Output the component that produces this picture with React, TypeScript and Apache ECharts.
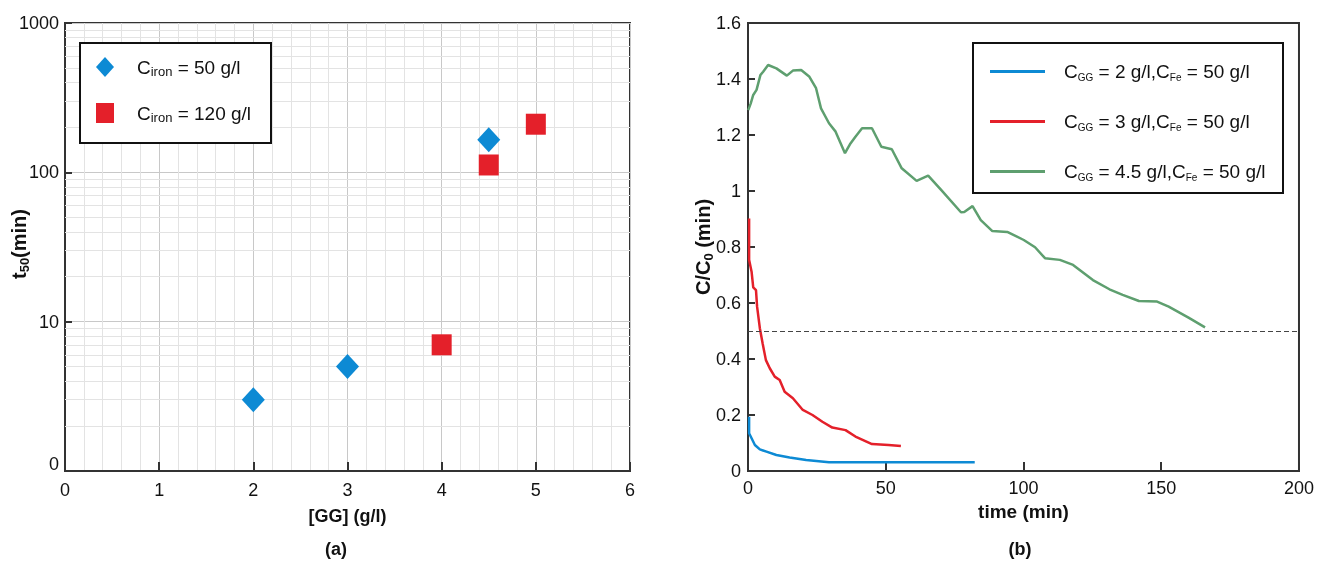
import React, { useEffect, useRef } from 'react';
import * as echarts from 'echarts';

// (a) t50 vs guar gum concentration, log scale
const ggIron50 = [2, 3, 4.5];
const t50Iron50 = [3, 5, 165];
const ggIron120 = [4, 4.5, 5];
const t50Iron120 = [7, 112, 210];
const logMajorLabels = [1, 10, 100, 1000];
const logMinorLines = [2, 3, 4, 5, 6, 7, 8, 9, 20, 30, 40, 50, 60, 70, 80, 90, 200, 300, 400, 500, 600, 700, 800, 900];

// (b) C/C0 vs time
const blueTime = [0.4, 0.4, 1.3, 2.5, 4.3, 6.7, 10.3, 15.1, 21.1, 29.4, 45, 60, 82.3];
const blueRatio = [0.194, 0.135, 0.117, 0.093, 0.077, 0.069, 0.057, 0.048, 0.039, 0.031, 0.031, 0.031, 0.031];
const redTime = [0.4, 0.4, 1.3, 1.9, 2.9, 3.3, 4.3, 5.3, 6.5, 7.9, 9.7, 11.5, 13.3, 16.3, 19.9, 23.4, 27, 30.6, 35.4, 39, 45, 51, 55.5];
const redRatio = [0.902, 0.754, 0.712, 0.656, 0.646, 0.587, 0.51, 0.456, 0.396, 0.367, 0.337, 0.325, 0.283, 0.26, 0.218, 0.2, 0.176, 0.155, 0.146, 0.123, 0.096, 0.093, 0.089];
const greenTime = [0.1, 1, 1.9, 3.1, 4.5, 5.5, 7.3, 10.3, 14.1, 16.3, 19.3, 22.3, 24.7, 26.5, 29.4, 31.8, 35.2, 37.2, 39, 41.4, 45, 48.4, 52.2, 55.8, 61.2, 65.4, 70.1, 77.3, 78.5, 81.5, 84.5, 88.7, 94.1, 100.1, 104.2, 107.8, 113.2, 118, 125.2, 131.2, 136, 141.9, 148.5, 152.7, 159.9, 165.9];
const greenRatio = [1.289, 1.313, 1.343, 1.361, 1.414, 1.426, 1.45, 1.438, 1.412, 1.43, 1.432, 1.408, 1.367, 1.295, 1.242, 1.212, 1.135, 1.17, 1.194, 1.224, 1.224, 1.158, 1.149, 1.081, 1.036, 1.055, 1.004, 0.924, 0.925, 0.946, 0.896, 0.857, 0.854, 0.825, 0.799, 0.76, 0.754, 0.736, 0.682, 0.649, 0.629, 0.607, 0.605, 0.587, 0.548, 0.513];
const halfLevel = 0.5;

const legendA = ['Ciron = 50 g/l', 'Ciron = 120 g/l'];
const legendB = ['CGG = 2 g/l,CFe = 50 g/l', 'CGG = 3 g/l,CFe = 50 g/l', 'CGG = 4.5 g/l,CFe = 50 g/l'];
const legendRichText: Record<string, string> = {
  'Ciron = 50 g/l': '{c|C}{s|iron}{c| = 50 g/l}',
  'Ciron = 120 g/l': '{c|C}{s|iron}{c| = 120 g/l}',
  'CGG = 2 g/l,CFe = 50 g/l': '{c|C}{s|GG}{c| = 2 g/l,C}{s|Fe}{c| = 50 g/l}',
  'CGG = 3 g/l,CFe = 50 g/l': '{c|C}{s|GG}{c| = 3 g/l,C}{s|Fe}{c| = 50 g/l}',
  'CGG = 4.5 g/l,CFe = 50 g/l': '{c|C}{s|GG}{c| = 4.5 g/l,C}{s|Fe}{c| = 50 g/l}',
};

const zip = (xs: number[], ys: number[]) => xs.map((x, i) => [x, ys[i]]);

const FONT = "'Liberation Sans', Arial, Helvetica, sans-serif";
const DARK = '#333';
const BLUE = '#0d8ad4';
const RED = '#e4202a';
const GREEN = '#5e9f6f';

const App: React.FC = () => {
  const chartRef = useRef<HTMLDivElement>(null);

  useEffect(() => {
    if (!chartRef.current) return;
    const chart = echarts.init(chartRef.current, null, { renderer: 'svg' });

    const axisLine = { show: true, lineStyle: { color: DARK, width: 2 } };
    const tick = (len: number) => ({ show: true, inside: true, length: len, lineStyle: { color: DARK, width: 2 } });
    const label = (margin: number) => ({ fontSize: 18, color: '#111', margin, fontFamily: FONT });
    const boldTitle = { fontSize: 18, fontWeight: 'bold', color: '#111', fontFamily: FONT };
    const titleRich = {
      b: { fontSize: 20, fontWeight: 'bold', lineHeight: 24, fill: '#111', fontFamily: FONT },
      s: { fontSize: 13, fontWeight: 'bold', lineHeight: 12, verticalAlign: 'bottom', fill: '#111', fontFamily: FONT },
    };

    const option = {
      animation: false,
      textStyle: { fontFamily: FONT },
      grid: [
        { left: 65, top: 23, width: 565, height: 448, show: true, borderColor: DARK, borderWidth: 2 },
        { left: 748, top: 23, width: 557, height: 448, show: true, borderColor: DARK, borderWidth: 2 },
      ],
      xAxis: [
        {
          gridIndex: 0, type: 'value', min: 0, max: 6, interval: 1,
          name: '[GG] (g/l)', nameLocation: 'middle', nameGap: 36, nameTextStyle: boldTitle,
          axisLine, axisTick: tick(9), axisLabel: label(10),
          splitLine: { show: true, lineStyle: { color: '#c8c8c8', width: 1 } },
          minorTick: { show: false, splitNumber: 5 },
          minorSplitLine: { show: true, lineStyle: { color: '#e3e3e3', width: 1 } },
        },
        {
          gridIndex: 1, type: 'value', min: 0, max: 200, interval: 50,
          name: 'time (min)', nameLocation: 'middle', nameGap: 29, nameTextStyle: { ...boldTitle, fontSize: 19 },
          axisLine, axisTick: tick(9), axisLabel: label(8),
          splitLine: { show: false },
        },
      ],
      yAxis: [
        {
          gridIndex: 0, type: 'log', logBase: 10, min: logMajorLabels[0], max: logMajorLabels[3],
          axisLine, axisTick: tick(7),
          axisLabel: {
            ...label(6),
            formatter: (v: number) => (v === 1 ? '{z|0}' : String(v)),
            rich: { z: { fontSize: 18, color: '#111', fontFamily: FONT, padding: [0, 0, 14, 0] } },
          },
          splitLine: { show: true, lineStyle: { color: '#c8c8c8', width: 1 } },
        },
        {
          gridIndex: 1, type: 'value', min: 0, max: 1.6, interval: 0.2,
          axisLine, axisTick: tick(7), axisLabel: label(7),
          splitLine: { show: false },
        },
      ],
      legend: [
        {
          orient: 'vertical', left: 96, top: 57, padding: 0, itemGap: 25,
          itemWidth: 18, itemHeight: 20, z: 5, data: legendA,
          formatter: (name: string) => legendRichText[name],
          textStyle: {
            padding: [0, 0, 0, 18],
            rich: {
              c: { fontSize: 19, lineHeight: 22, color: '#111', fontFamily: FONT },
              s: { fontSize: 13, lineHeight: 11, verticalAlign: 'bottom', color: '#111', fontFamily: FONT },
            },
          },
        },
        {
          orient: 'vertical', left: 990, top: 62, padding: 0, itemGap: 29.5,
          itemWidth: 55, itemHeight: 3, icon: 'rect', z: 5, data: legendB,
          formatter: (name: string) => legendRichText[name],
          textStyle: {
            padding: [0, 0, 0, 14],
            rich: {
              c: { fontSize: 19, lineHeight: 22, color: '#111', fontFamily: FONT },
              s: { fontSize: 10, lineHeight: 10, verticalAlign: 'bottom', color: '#111', fontFamily: FONT },
            },
          },
        },
      ],
      series: [
        {
          name: 'logGrid', type: 'line', xAxisIndex: 0, yAxisIndex: 0, data: [], z: 1, silent: true,
          markLine: {
            silent: true, z: 1, symbol: ['none', 'none'], label: { show: false },
            lineStyle: { color: '#e3e3e3', width: 1, type: 'solid' },
            data: logMinorLines.map((v) => ({ yAxis: v })),
          },
        },
        {
          name: legendA[0], type: 'scatter', xAxisIndex: 0, yAxisIndex: 0, z: 6,
          symbol: 'diamond', symbolSize: [23, 25], itemStyle: { color: BLUE, opacity: 1 },
          data: zip(ggIron50, t50Iron50),
        },
        {
          name: legendA[1], type: 'scatter', xAxisIndex: 0, yAxisIndex: 0, z: 6,
          symbol: 'rect', symbolSize: [20, 21], itemStyle: { color: RED, opacity: 1 },
          data: zip(ggIron120, t50Iron120),
        },
        {
          name: legendB[0], type: 'line', xAxisIndex: 1, yAxisIndex: 1, symbol: 'none',
          lineStyle: { color: BLUE, width: 2.5 }, itemStyle: { color: BLUE },
          data: zip(blueTime, blueRatio),
        },
        {
          name: legendB[1], type: 'line', xAxisIndex: 1, yAxisIndex: 1, symbol: 'none',
          lineStyle: { color: RED, width: 2.5 }, itemStyle: { color: RED },
          data: zip(redTime, redRatio),
        },
        {
          name: legendB[2], type: 'line', xAxisIndex: 1, yAxisIndex: 1, symbol: 'none',
          lineStyle: { color: GREEN, width: 2.5 }, itemStyle: { color: GREEN },
          data: zip(greenTime, greenRatio),
          markLine: {
            silent: true, symbol: ['none', 'none'], label: { show: false },
            lineStyle: { color: '#444', width: 1, type: [5, 3] },
            data: [{ yAxis: halfLevel }],
          },
        },
      ],
      graphic: [
        { type: 'rect', z: 3, shape: { x: 80, y: 43, width: 191, height: 100 }, style: { fill: '#fff', stroke: '#111', lineWidth: 2 } },
        { type: 'rect', z: 3, shape: { x: 973, y: 43, width: 310, height: 150 }, style: { fill: '#fff', stroke: '#111', lineWidth: 2 } },
        {
          type: 'text', x: 19, y: 244, rotation: Math.PI / 2,
          style: { text: '{b|t}{s|50}{b|(min)}', align: 'center', verticalAlign: 'middle', rich: titleRich },
        },
        {
          type: 'text', x: 703, y: 247, rotation: Math.PI / 2,
          style: { text: '{b|C/C}{s|0}{b| (min)}', align: 'center', verticalAlign: 'middle', rich: titleRich },
        },
        {
          type: 'text', x: 336, y: 549,
          style: { text: '(a)', align: 'center', verticalAlign: 'middle', fontSize: 18, fontWeight: 'bold', fill: '#111', fontFamily: FONT },
        },
        {
          type: 'text', x: 1020, y: 549,
          style: { text: '(b)', align: 'center', verticalAlign: 'middle', fontSize: 18, fontWeight: 'bold', fill: '#111', fontFamily: FONT },
        },
      ],
    };

    chart.setOption(option);

    return () => {
      chart.dispose();
    };
  }, []);

  return <div ref={chartRef} style={{ position: 'fixed', left: 0, top: 0, width: 1317, height: 562 }} />;
};

export default App;
